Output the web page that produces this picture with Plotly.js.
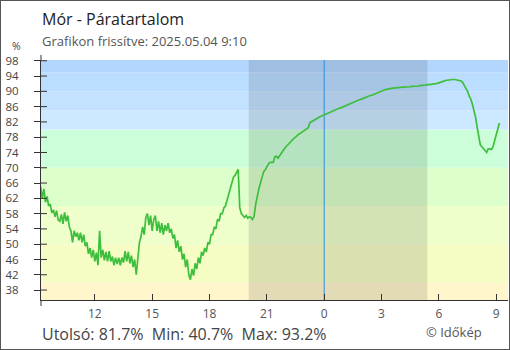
<!DOCTYPE html>
<html><head><meta charset="utf-8">
<script src="https://cdn.plot.ly/plotly-3.0.1.min.js"></script>
<style>
html,body{margin:0;padding:0;background:#fff;}
#wrap{position:relative;width:510px;height:350px;overflow:hidden;}
#chart{width:510px;height:350px;}
#frame{position:absolute;left:0;top:0;width:508px;height:348px;border:1px solid #555;pointer-events:none;z-index:10;}
</style></head>
<body><div id="wrap"><div id="chart"></div><div id="frame"></div></div>
<script>
// ---- data ----
const startTime = Date.UTC(2025, 4, 3, 9, 10); // first reading 2025-05-03 09:10
const stepMinutes = 5;
const humidity = [
  65.0, 62.0, 64.5, 61.0, 62.5, 60.0, 60.5, 58.2, 59.0, 57.2, 58.8, 56.3,
  56.0, 57.8, 55.3, 58.3, 56.0, 57.5, 54.5, 53.5, 50.5, 53.5, 52.0, 53.0,
  51.0, 53.0, 50.5, 52.5, 49.5, 50.5, 47.5, 49.0, 46.5, 48.5, 45.5, 47.8,
  44.5, 53.5, 46.5, 48.5, 45.8, 48.0, 45.5, 48.2, 45.5, 46.8, 44.5, 46.5,
  44.8, 46.5, 44.5, 46.5, 45.2, 48.2, 45.5, 48.0, 45.0, 47.0, 44.0, 46.0,
  42.0, 47.0, 50.5, 52.0, 54.5, 52.5, 57.0, 58.0, 55.0, 57.5, 53.5, 56.5,
  57.5, 53.5, 56.0, 53.0, 55.5, 52.5, 55.0, 53.5, 55.5, 53.0, 54.0, 51.5,
  52.5, 49.0, 51.0, 48.0, 49.5, 46.0, 47.5, 44.0, 46.0, 42.0, 40.7, 43.5,
  41.8, 45.0, 43.5, 46.5, 45.0, 48.0, 47.0, 49.0, 48.0, 50.5, 50.0, 52.5,
  52.5, 54.5, 54.0, 56.5, 56.0, 58.0, 58.0, 59.5, 60.0, 61.5, 63.0, 65.0,
  66.5, 67.5, 68.0, 69.0, 69.6, 59.5, 58.0, 57.5, 57.0, 57.5, 56.8, 57.2,
  57.0, 56.5, 57.3, 60.5, 63.0, 64.5, 66.0, 67.6, 69.0, 69.5, 70.3, 71.0,
  71.4, 71.5, 71.4, 72.9, 73.0, 72.5, 73.2, 73.8, 74.5, 75.0, 75.5, 76.0,
  76.5, 76.8, 77.2, 77.7, 78.0, 78.5, 78.8, 79.0, 79.3, 79.6, 80.0, 80.3,
  80.5, 81.8, 82.0, 82.3, 82.5, 82.8, 83.0, 83.3, 83.5, 83.6, 83.8, 84.0,
  84.2, 84.4, 84.6, 84.8, 85.0, 85.2, 85.3, 85.5, 85.6, 85.8, 86.0, 86.1,
  86.3, 86.5, 86.7, 86.9, 87.1, 87.3, 87.5, 87.6, 87.8, 87.9, 88.1, 88.2,
  88.4, 88.5, 88.7, 88.9, 89.0, 89.2, 89.4, 89.6, 89.7, 89.9, 90.1, 90.2,
  90.4, 90.5, 90.6, 90.7, 90.7, 90.8, 90.9, 90.9, 91.0, 91.0, 91.0, 91.1,
  91.1, 91.1, 91.2, 91.2, 91.2, 91.3, 91.3, 91.3, 91.4, 91.4, 91.5, 91.5,
  91.6, 91.6, 91.7, 91.7, 91.8, 91.8, 91.9, 91.9, 92.0, 92.1, 92.2, 92.3,
  92.6, 92.7, 92.8, 92.9, 93.0, 93.1, 93.2, 93.1, 93.1, 93.0, 93.0, 92.9,
  92.7, 92.3, 91.6, 91.0, 90.0, 88.8, 88.0, 86.7, 85.0, 83.3, 80.7, 77.7,
  76.0, 75.5, 75.0, 74.5, 74.0, 75.0, 74.8, 74.8, 75.5, 77.0, 79.0, 80.5,
  81.7
];
const tickTimes = ['2025-05-03 12:00','2025-05-03 15:00','2025-05-03 18:00','2025-05-03 21:00',
                   '2025-05-04 00:00','2025-05-04 03:00','2025-05-04 06:00','2025-05-04 09:00'];
const tickLabels = ['12','15','18','21','0','3','6','9'];
const yTicks = [38,42,46,50,54,58,62,66,70,74,78,82,86,90,94,98];
const bandEdges = [30,40,50,60,70,80,85,90,95,100];
const bandColors = ['#fff6cc','#f6fdc4','#eeffcc','#ddffcc','#ccffd9','#cce9ff','#c3e2ff','#bbddff','#b3d6fe'];
const nightStart = '2025-05-03 20:03';
const nightEnd = '2025-05-04 05:24';
const midnight = '2025-05-04 00:00';
const xRange = ['2025-05-03 09:11','2025-05-04 09:37'];
const yRange = [35.4, 98.2];
const titleText = 'Mór - Páratartalom';
const subtitleText = 'Grafikon frissítve: 2025.05.04 9:10';
const statsText = 'Utolsó: 81.7%&nbsp;&nbsp;Min: 40.7%&nbsp;&nbsp;Max: 93.2%';
const creditText = '© Időkép';

// ---- build ----
const times = humidity.map((_, i) =>
  new Date(startTime + i * stepMinutes * 60000).toISOString().slice(0, 19).replace('T', ' '));

const shapes = [];
for (let i = 0; i < bandColors.length; i++) {
  shapes.push({type:'rect', xref:'paper', yref:'y', x0:0, x1:1, y0:bandEdges[i], y1:bandEdges[i+1],
    fillcolor:bandColors[i], line:{width:0}, layer:'below'});
}
shapes.push({type:'rect', xref:'x', yref:'paper', x0:nightStart, x1:nightEnd, y0:0, y1:1,
  fillcolor:'rgba(0,0,0,0.11)', line:{width:0}, layer:'below'});
shapes.push({type:'line', xref:'x', yref:'paper', x0:midnight, x1:midnight, y0:0, y1:1,
  line:{color:'#2b8de0', width:1}, layer:'below'});
yTicks.forEach(v => shapes.push({type:'line', xref:'paper', xsizemode:'pixel', xanchor:0, x0:0, x1:6,
  yref:'y', y0:v, y1:v, line:{color:'#333', width:1}}));
shapes.push({type:'line', xref:'paper', x0:0, x1:0, yref:'paper', ysizemode:'pixel', yanchor:0, y0:-6, y1:0,
  line:{color:'#333', width:1}});
shapes.push({type:'line', xref:'paper', x0:0, x1:0, yref:'paper', ysizemode:'pixel', yanchor:1, y0:0, y1:5,
  line:{color:'#333', width:1}});

const FONT = 'Open Sans, Noto Sans, DejaVu Sans, sans-serif';
const trace = {
  type:'scatter', mode:'lines', x:times, y:humidity,
  line:{color:'#3dbf3d', width:1.7}, hoverinfo:'skip', showlegend:false
};

const layout = {
  width:510, height:350,
  margin:{l:41, r:2, t:60, b:50},
  paper_bgcolor:'#ffffff', plot_bgcolor:'#ffffff',
  font:{family:FONT, color:'#444'},
  showlegend:false,
  xaxis:{type:'date', range:xRange, tickmode:'array', tickvals:tickTimes, ticktext:tickLabels,
    ticks:'inside', ticklen:6, tickcolor:'#333', tickwidth:1,
    showline:true, linecolor:'#333', linewidth:1, showgrid:false, zeroline:false,
    tickfont:{size:12, color:'#555', family:FONT}, ticklabelstandoff:3, fixedrange:true},
  yaxis:{range:yRange, tickmode:'array', tickvals:yTicks,
    ticks:'outside', ticklen:6, tickcolor:'#333', tickwidth:1,
    showline:true, linecolor:'#333', linewidth:1, showgrid:false, zeroline:false,
    tickfont:{size:11.5, color:'#444', family:FONT}, ticklabelstandoff:13, fixedrange:true},
  shapes:shapes,
  annotations:[
    {text:titleText, xref:'paper', yref:'paper', x:0, y:1.172, xanchor:'left', yanchor:'middle',
     showarrow:false, borderpad:0, font:{size:16, color:'#222', family:FONT}},
    {text:subtitleText, xref:'paper', yref:'paper', x:0, y:1.079, xanchor:'left', yanchor:'middle',
     showarrow:false, borderpad:0, font:{size:13, color:'#555', family:FONT}},
    {text:'%', xref:'paper', yref:'paper', x:-0.0514, y:1.06, xanchor:'center', yanchor:'middle',
     showarrow:false, borderpad:0, font:{size:10.5, color:'#444', family:FONT}},
    {text:statsText, xref:'paper', yref:'paper', x:0, y:-0.14, xanchor:'left', yanchor:'middle',
     showarrow:false, borderpad:0, font:{size:16, color:'#444', family:FONT}},
    {text:creditText, xref:'paper', yref:'paper', x:0.822, y:-0.133, xanchor:'left', yanchor:'middle',
     showarrow:false, borderpad:0, font:{size:13, color:'#555', family:FONT}}
  ]
};

Plotly.newPlot('chart', [trace], layout, {staticPlot:true, displayModeBar:false});
</script>
</body></html>
